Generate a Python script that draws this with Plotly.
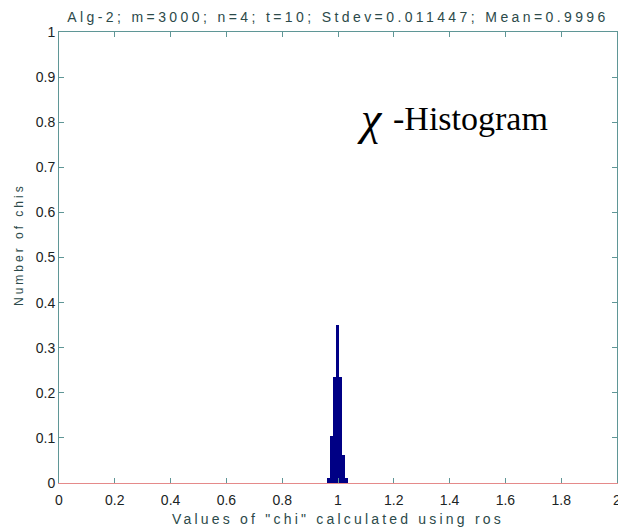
import plotly.graph_objects as go

# ---- data ----
bin_edges = [0.9616, 0.9722, 0.9828, 0.9934, 1.0040, 1.0146, 1.0252, 1.0358]
bin_heights = [0.012, 0.105, 0.236, 0.350, 0.236, 0.062, 0.012]

x_tick_vals = [0, 0.2, 0.4, 0.6, 0.8, 1.0, 1.2, 1.4, 1.6, 1.8, 2.0]
x_tick_labels = ["0", "0.2", "0.4", "0.6", "0.8", "1", "1.2", "1.4", "1.6", "1.8", "2"]
y_tick_vals = [0, 0.1, 0.2, 0.3, 0.4, 0.5, 0.6, 0.7, 0.8, 0.9, 1.0]
y_tick_labels = ["0", "0.1", "0.2", "0.3", "0.4", "0.5", "0.6", "0.7", "0.8", "0.9", "1"]

title_text = "Alg-2; m=3000; n=4; t=10; Stdev=0.011447; Mean=0.9996"
x_title = 'Values of "chi" calculated using ros'
y_title = "Number of chis"
chi_symbol = "\u03c7"
chi_label = "-Histogram"

bin_centers = [(a + b) / 2 for a, b in zip(bin_edges[:-1], bin_edges[1:])]
bin_widths = [b - a for a, b in zip(bin_edges[:-1], bin_edges[1:])]

FRAME = "#5f9696"
BASE = "#e58a8a"
TXT = "#1a2424"
TTL = "#2c4a4a"
SANS = "Liberation Sans, Arial, sans-serif"
SERIF = "Liberation Serif, Times New Roman, serif"

L, R, T, B = 59, 1, 32, 47
W, H = 618, 530
PW, PH = W - L - R, H - T - B


def spaced(s, px):
    return '<span style="letter-spacing:%spx">%s</span>' % (px, s)


fig = go.Figure()
fig.add_trace(go.Bar(
    x=bin_centers, y=bin_heights, width=bin_widths,
    marker=dict(color="#000085", line=dict(width=0)),
    showlegend=False, hoverinfo="x+y",
))
# invisible helper trace so the mirrored top axis is drawn
fig.add_trace(go.Scatter(x=[0, 2], y=[0, 0], xaxis="x2", mode="lines",
                         line=dict(width=0), showlegend=False, hoverinfo="skip"))

fig.update_layout(
    width=W, height=H,
    margin=dict(l=L, r=R, t=T, b=B, autoexpand=False),
    paper_bgcolor="white", plot_bgcolor="white",
    bargap=0,
    title=dict(
        text=spaced(title_text, 3.4),
        x=(L + L + PW) / 2 / W, xanchor="center", xref="container",
        y=1 - 17 / H, yanchor="middle", yref="container",
        font=dict(family=SANS, size=14, color=TTL),
    ),
    xaxis=dict(
        range=[0, 2], tickvals=x_tick_vals, ticktext=x_tick_labels,
        ticks="inside", ticklen=5, tickcolor=FRAME, tickwidth=1,
        showline=True, linecolor=BASE, linewidth=1, mirror=False,
        showgrid=False, zeroline=False, automargin=False,
        ticklabeloverflow="allow", ticklabelstandoff=4,
        tickfont=dict(family=SANS, size=14, color=TXT),
        title=dict(text=spaced(x_title, 3.2), standoff=7,
                   font=dict(family=SANS, size=14, color=TTL)),
    ),
    xaxis2=dict(
        range=[0, 2], tickvals=x_tick_vals, overlaying="x", side="top",
        anchor="y", showticklabels=False, automargin=False,
        ticks="inside", ticklen=5, tickcolor=FRAME, tickwidth=1,
        showline=True, linecolor=FRAME, linewidth=1,
        showgrid=False, zeroline=False,
    ),
    yaxis=dict(
        range=[0, 1], tickvals=y_tick_vals, ticktext=y_tick_labels,
        ticks="inside", ticklen=5, tickcolor=FRAME, tickwidth=1,
        showline=True, linecolor=FRAME, linewidth=1, mirror="ticks",
        showgrid=False, zeroline=False, automargin=False,
        ticklabeloverflow="allow",
        tickfont=dict(family=SANS, size=14, color=TXT),
    ),
)

# y-axis title placed like the reference (slightly above plot centre)
fig.add_annotation(
    text=spaced(y_title, 3.0), xref="paper", yref="paper",
    x=(19 - L) / PW, y=((H - B) - 245) / PH,
    xanchor="center", yanchor="middle", textangle=-90, showarrow=False,
    font=dict(family=SANS, size=12, color=TTL),
)

fig.add_annotation(
    text=chi_symbol, xref="paper", yref="paper",
    x=(370 - L) / PW, y=((H - B) - 119) / PH,
    xanchor="center", yanchor="middle", showarrow=False,
    font=dict(family=SERIF, size=46, color="black", style="italic"),
)
fig.add_annotation(
    text=chi_label, xref="paper", yref="paper",
    x=(391 - L) / PW, y=((H - B) - 118) / PH,
    xanchor="left", yanchor="middle", showarrow=False,
    font=dict(family=SERIF, size=34, color="black"),
)

fig.write_html(
    "out.html",
    config={"displayModeBar": False},
    post_script="document.body.style.margin='0';document.body.style.padding='0';",
)
